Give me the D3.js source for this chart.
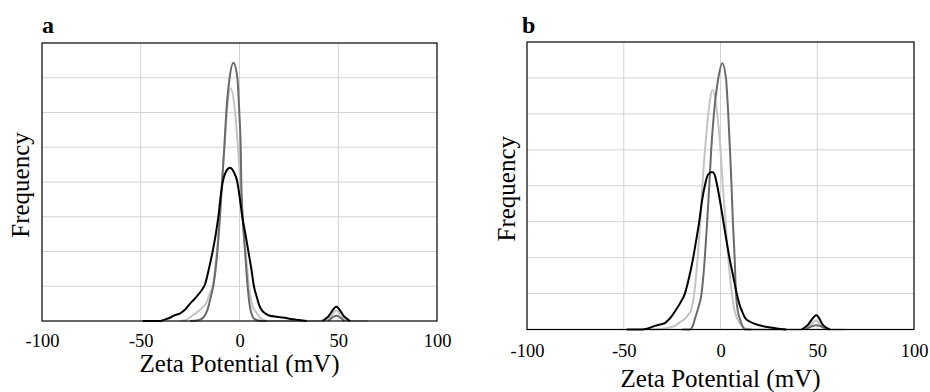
<!DOCTYPE html>
<html>
<head>
<meta charset="utf-8">
<script src="https://cdn.jsdelivr.net/npm/d3@7"></script>
<style>
  body { margin: 0; background: #fff; }
  svg { display: block; }
  text { font-family: "Liberation Serif", "Times New Roman", serif; fill: #000; }
</style>
</head>
<body>
<svg id="chart" width="930" height="392"></svg>
<script>
// x ticks and y grid (frequency axis has no numbers)
let xTicks = [-100, -50, 0, 50, 100];
let yGrid = [1, 2, 3, 4, 5, 6, 7, 8];

// panel a, [zeta mV, frequency] ; null = gap in the line
let aBlack = [[-49,0],[-40,0],[-38,0.04],[-35,0.1],[-33,0.16],[-30,0.22],[-27.5,0.33],[-25,0.5],[-23,0.62],
  [-21,0.75],[-19,0.9],[-17.5,1.05],[-15.5,1.5],[-13.6,2],[-12,2.5],[-10.7,3],[-9.5,3.6],[-8.5,4],[-7,4.28],
  [-4.8,4.41],[-3,4.3],[-1.1,4],[0,3.6],[1.4,3],[3,2.5],[4.5,2],[6,1.5],[7.3,1],[8.7,0.7],[10,0.45],[11.2,0.32],
  [13,0.22],[15,0.16],[19,0.12],[22,0.1],[26,0.06],[30,0.03],[34,0],null,
  [42,0],[45,0.13],[49,0.41],[53,0.13],[56,0]];
let aDark = [[-25,0],[-20.9,0.02],[-18.3,0.1],[-15.8,0.4],[-14.5,0.7],[-13.3,1],[-11.2,2],[-9.9,3],[-8.8,4],
  [-7.7,5],[-6.7,6],[-5,7],[-3.1,7.43],[-1.1,7],[-0.1,6],[0.6,5],[0.9,4],[1.6,3],[2.8,2],[4.1,1],[5.3,0.4],
  [6.5,0.15],[7.8,0.05],[11.2,0],[14,0],null,[45,0],[49,0.15],[53,0]];
let aLight = [[-30,0],[-27,0.03],[-24,0.15],[-21,0.27],[-18.5,0.4],[-16.5,0.55],[-15,0.8],[-13.5,1],[-11.5,2],
  [-10,3],[-8.9,4],[-7.6,5],[-6.4,6],[-4.5,6.7],[-2.4,6.1],[-0.8,5],[0.4,4],[1.6,3],[3.1,2],[4.8,1],[6.5,0.45],
  [8.5,0.25],[10.4,0.1],[14,0],[40,0],[45,0.05],[49,0.3],[53,0.05],[56,0],[65,0]];

// panel b
let bBlack = [[-48.5,0],[-40.7,0],[-38,0.02],[-36.4,0.05],[-34,0.1],[-31.3,0.14],[-29,0.17],[-27.8,0.22],
  [-25.5,0.35],[-23.6,0.5],[-21,0.72],[-18.4,1],[-16,1.5],[-14.1,2],[-12.5,2.5],[-11,3],[-9.5,3.6],[-8.1,4],
  [-6.5,4.3],[-4.3,4.38],[-3,4.3],[-1.7,4],[0,3.5],[1.5,3],[3,2.5],[4.6,2],[6.5,1.5],[8.4,1],[9.8,0.7],
  [11.2,0.5],[13,0.3],[15.9,0.2],[20,0.12],[24,0.07],[29,0.03],[34,0],null,
  [42,0],[45,0.12],[49.6,0.4],[53,0.12],[56.5,0]];
let bDark = [[-20,0],[-15.8,0],[-14,0.15],[-13.2,0.3],[-11.5,0.6],[-9.8,1],[-8.1,2],[-6.9,3],[-5.8,4],
  [-4.8,5],[-3.4,6],[-1.1,7],[0.9,7.41],[2.8,7],[4,6],[4.9,5],[5.7,4],[6.4,3],[7.3,2],[8,1],[9,0.5],
  [10,0.3],[11.3,0.1],[12.6,0],[16,0],null,[44,0],[49.5,0.12],[55,0]];
let bLight = [[-36,0],[-30,0.02],[-26,0.06],[-23.6,0.1],[-21,0.2],[-18.4,0.3],[-16.5,0.42],[-15.5,0.5],
  [-14.5,0.7],[-13.6,1],[-11.8,2],[-10.5,3],[-9.4,4],[-8,5],[-6.3,6],[-4.1,6.67],[-1.7,6],[0,5],[1.2,4],
  [2.6,3],[4,2],[5.9,1],[7.4,0.5],[8.6,0.3],[10.9,0.1],[13,0.03],[16,0],[40,0],[45,0.05],[49.5,0.25],
  [53,0.05],[57,0],[64,0]];

let colors = {light: "#c4c4c4", dark: "#6a6a6a", black: "#000"};

let svg = d3.select("#chart");
svg.append("rect").attr("width", 930).attr("height", 392).attr("fill", "#fff");

function drawPanel(p, series){
  let g = svg.append("g");
  let x = d3.scaleLinear().domain([-100, 100]).range([p.left, p.right]);
  let y = d3.scaleLinear().domain([0, 8]).range([p.bottom, p.top]);

  //grid
  g.append("g").selectAll("line").data(xTicks.slice(1, -1)).enter().append("line")
    .attr("x1", d => x(d)).attr("x2", d => x(d))
    .attr("y1", p.top).attr("y2", p.bottom)
    .attr("stroke", "#d3d3d3").attr("stroke-width", 1);
  g.append("g").selectAll("line").data(yGrid.slice(0, -1)).enter().append("line")
    .attr("x1", p.left).attr("x2", p.right)
    .attr("y1", d => y(d)).attr("y2", d => y(d))
    .attr("stroke", "#d3d3d3").attr("stroke-width", 1);

  //curves
  let line = d3.line()
    .defined(d => d != null)
    .x(d => x(d[0])).y(d => y(d[1]))
    .curve(d3.curveMonotoneX);
  for(let s of series){
    g.append("path").datum(s.data)
      .attr("d", line)
      .attr("fill", "none")
      .attr("stroke", s.color)
      .attr("stroke-width", 2)
      .attr("stroke-linejoin", "round");
  }

  //frame
  g.append("rect")
    .attr("x", p.left).attr("y", p.top)
    .attr("width", p.right - p.left).attr("height", p.bottom - p.top)
    .attr("fill", "none").attr("stroke", "#000").attr("stroke-width", 1.2);

  //tick labels, plain hyphen for negatives like the original
  let ax = g.append("g").attr("transform", "translate(0," + p.bottom + ")")
    .call(d3.axisBottom(x).tickValues(xTicks).tickSize(0).tickFormat(d => String(d)));
  ax.select(".domain").remove();
  ax.selectAll("text")
    .attr("y", p.tickY - p.bottom).attr("dy", null)
    .attr("font-size", "18.5px").attr("fill", "#000");

  g.append("text")
    .attr("x", (p.left + p.right) / 2).attr("y", p.titleY)
    .attr("text-anchor", "middle").attr("font-size", "25px")
    .text("Zeta Potential (mV)");
  g.append("text")
    .attr("transform", "translate(" + p.yTitleX + "," + ((p.top + p.bottom) / 2 + 3) + ") rotate(-90)")
    .attr("text-anchor", "middle").attr("font-size", "25px")
    .text("Frequency");
  g.append("text")
    .attr("x", p.letterX).attr("y", 33)
    .attr("font-size", "24px").attr("font-weight", "bold")
    .text(p.letter);
}

drawPanel({left: 42, right: 437, top: 43, bottom: 321, tickY: 347, titleY: 372, yTitleX: 29, letter: "a", letterX: 42},
  [{data: aLight, color: colors.light}, {data: aDark, color: colors.dark}, {data: aBlack, color: colors.black}]);
drawPanel({left: 527, right: 914, top: 42, bottom: 329.5, tickY: 357, titleY: 387, yTitleX: 515, letter: "b", letterX: 522},
  [{data: bLight, color: colors.light}, {data: bDark, color: colors.dark}, {data: bBlack, color: colors.black}]);
</script>
</body>
</html>
